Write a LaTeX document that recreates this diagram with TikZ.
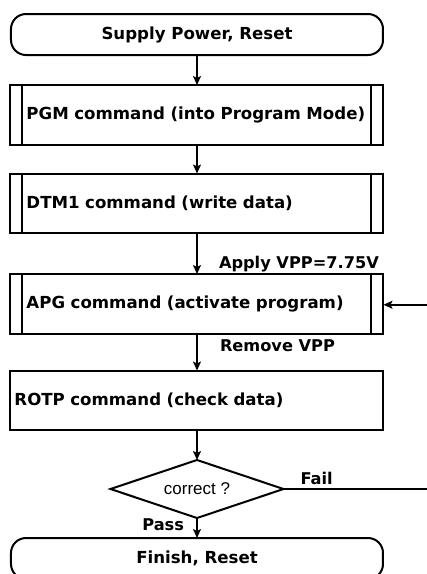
\documentclass[tikz,border=0pt]{standalone}
\usepackage{fontspec}
\usepackage{tikz}
\usetikzlibrary{matrix,shapes.geometric,arrows.meta}
\newfontfamily\dejavu{DejaVu Sans}
\newfontfamily\liber{Liberation Sans}
\newcommand{\flowfont}{\dejavu\bfseries\fontsize{16.6}{19}\selectfont}
\newcommand{\labfont}{\dejavu\bfseries\fontsize{16.2}{19}\selectfont}
\newcommand{\askfont}{\liber\fontsize{17}{20}\selectfont}

\begin{document}
\begin{tikzpicture}[x=1pt,y=-1pt,line width=2pt,
	flow/.style={line width=2pt,-{Stealth[length=9pt,width=8pt,inset=2pt]}},
	lab/.style={font=\labfont,inner sep=0pt},
	term/.style={draw,line width=2pt,rectangle,rounded corners=15pt,minimum width=372pt,minimum height=41pt,inner sep=0pt,outer sep=0pt,font=\flowfont},
	cmd/.style={draw,line width=2pt,rectangle,minimum width=373pt,minimum height=59.5pt,text width=341pt,inner xsep=16pt,inner ysep=0pt,outer sep=0pt,align=left,font=\flowfont,
		path picture={\draw[line width=2pt]
			([xshift=12pt]path picture bounding box.north west) -- ([xshift=12pt]path picture bounding box.south west)
			([xshift=-12pt]path picture bounding box.north east) -- ([xshift=-12pt]path picture bounding box.south east);}},
	plain/.style={draw,line width=2pt,rectangle,minimum width=373pt,minimum height=59.5pt,text width=365pt,inner xsep=4pt,inner ysep=0pt,outer sep=0pt,align=left,font=\flowfont},
	check/.style={draw,line width=2pt,diamond,aspect=3,minimum width=173pt,minimum height=58pt,inner sep=0pt,outer sep=0pt,font=\askfont}]
	\useasboundingbox (0,0) rectangle (427,574);
	\matrix (m) [matrix of nodes,row sep=27pt,anchor=north,inner sep=0pt,outer sep=0pt] at (197,13)
	{
		|[term]| Supply Power, Reset \\[1pt]
		|[cmd]| PGM command (into Program Mode) \\
		|[cmd]| DTM1 command (write data) \\[12pt]
		|[cmd]| APG command (activate program) \\[8pt]
		|[plain]| ROTP command (check data) \\[1pt]
		|[check]| correct ? \\[-9pt]
		|[term]| Finish, Reset \\};
	\coordinate (back) at (445,0);
	\path[flow]
	(m-1-1) edge (m-2-1)
	(m-2-1) edge (m-3-1)
	(m-3-1) edge node [lab,anchor=base west,pos=1,xshift=21pt,yshift=6pt] {Apply VPP=7.75V} (m-4-1)
	(m-4-1) edge node [lab,anchor=base west,pos=0,xshift=22pt,yshift=-18pt] {Remove VPP} (m-5-1)
	(m-5-1) edge (m-6-1)
	(m-6-1) edge node [lab,anchor=base east,pos=0,xshift=-12pt,yshift=-12pt] {Pass} (m-7-1);
	\draw[flow] (m-6-1.east) -- node [lab,anchor=base west,pos=0,xshift=16pt,yshift=5pt] {Fail} (m-6-1.east -| back)
		|- ([yshift=-1pt]m-4-1.east);
\end{tikzpicture}
\end{document}
